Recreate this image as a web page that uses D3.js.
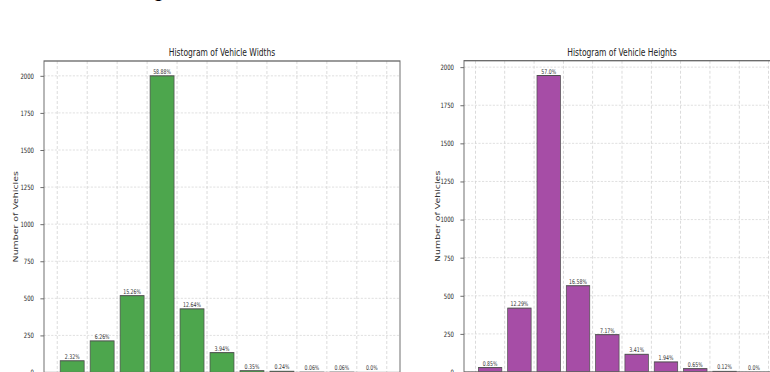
<!DOCTYPE html>
<html>
<head>
<meta charset="utf-8">
<script src="https://cdn.jsdelivr.net/npm/d3@7/dist/d3.min.js"></script>
<style>
  html, body { margin: 0; padding: 0; background: #fff; }
  svg { display: block; font-family: "DejaVu Sans", sans-serif; }
</style>
</head>
<body>
<svg id="chart" width="770" height="372"></svg>
<script>
// ---------- data ----------
const suptitle = "Histograms of Vehicle Dimensions";

const widthTitle = "Histogram of Vehicle Widths";
const widthCounts = [79, 213, 518, 2000, 429, 134, 12, 8, 2, 2, 0];
const widthPct = ["2.32%", "6.26%", "15.26%", "58.88%", "12.64%", "3.94%", "0.35%", "0.24%", "0.06%", "0.06%", "0.0%"];
const widthEdges = ["1.4", "1.5", "1.6", "1.7", "1.8", "1.9", "2.0", "2.1", "2.2", "2.3", "2.4", "2.5"];

const heightTitle = "Histogram of Vehicle Heights";
const heightCounts = [29, 419, 1945, 566, 245, 116, 66, 22, 4, 0];
const heightPct = ["0.85%", "12.29%", "57.0%", "16.58%", "7.17%", "3.41%", "1.94%", "0.65%", "0.12%", "0.0%"];
const heightEdges = ["1.2", "1.4", "1.6", "1.8", "2.0", "2.2", "2.4", "2.6", "2.8", "3.0", "3.2"];

const yTicks = [0, 250, 500, 750, 1000, 1250, 1500, 1750, 2000];
const yLabel = "Number of Vehicles";

// ---------- drawing ----------
const K = 0.72; // horizontal squeeze of the whole figure
const svg = d3.select("#chart");
const root = svg.append("g").attr("transform", `scale(${K},1)`);

root.append("text")
  .attr("x", 107 / K).attr("y", -3)
  .attr("font-size", 22).attr("font-weight", "bold").attr("fill", "#000")
  .text(suptitle);

function panel(opt) {
  const n = opt.counts.length;
  const left = opt.left / K, right = opt.right / K;
  const top = opt.top, bottom = opt.bottom;
  const m = 0.05 * (n - 0.2);
  const x = d3.scaleLinear().domain([0.1 - m, n - 0.1 + m]).range([left, right]);
  const y = d3.scaleLinear().domain([0, d3.max(opt.counts) * 1.05]).range([bottom, top]);
  const g = root.append("g");

  // grid
  g.append("g").selectAll("line.h").data(yTicks).join("line")
    .attr("x1", left).attr("x2", right)
    .attr("y1", d => y(d)).attr("y2", d => y(d))
    .attr("stroke", "#d2d2d2").attr("stroke-width", 0.8).attr("stroke-dasharray", "3,2");
  g.append("g").selectAll("line.v").data(d3.range(n + 1)).join("line")
    .attr("x1", d => x(d)).attr("x2", d => x(d))
    .attr("y1", top).attr("y2", bottom)
    .attr("stroke", "#d2d2d2").attr("stroke-width", 1.1).attr("stroke-dasharray", "3,2");

  // bars
  g.append("g").selectAll("rect").data(opt.counts).join("rect")
    .attr("x", (d, i) => x(i + 0.1))
    .attr("width", (d, i) => x(i + 0.9) - x(i + 0.1))
    .attr("y", d => y(d))
    .attr("height", d => y(0) - y(d))
    .attr("fill", opt.color)
    .attr("stroke", "#4d4d4d").attr("stroke-width", 1);

  // labels
  g.append("g").selectAll("text").data(opt.counts).join("text")
    .attr("x", (d, i) => x(i + 0.5))
    .attr("y", d => y(d) - 2)
    .attr("text-anchor", "middle")
    .attr("font-size", 6.5).attr("fill", "#333")
    .text((d, i) => opt.pct[i]);

  // axes
  const yAxis = d3.axisLeft(y).tickValues(yTicks).tickFormat(d3.format("d")).tickSize(5).tickPadding(9);
  const ya = g.append("g").attr("transform", `translate(${left},0)`).call(yAxis);
  ya.select(".domain").remove();
  ya.selectAll("line").attr("stroke", "#555");
  ya.selectAll("text").attr("font-size", 7.4).attr("fill", "#222").attr("font-family", "DejaVu Sans");

  const xAxis = d3.axisBottom(x).tickValues(d3.range(n + 1)).tickFormat(i => opt.edges[i]).tickSize(5);
  const xa = g.append("g").attr("transform", `translate(0,${bottom})`).call(xAxis);
  xa.select(".domain").remove();
  xa.selectAll("line").attr("stroke", "#555");
  xa.selectAll("text").attr("font-size", 7.5).attr("fill", "#333").attr("font-family", "DejaVu Sans");

  // frame
  g.append("rect")
    .attr("x", left).attr("y", top)
    .attr("width", right - left).attr("height", bottom - top)
    .attr("fill", "none").attr("stroke", "#666").attr("stroke-width", 1.3);

  // title
  g.append("text")
    .attr("x", (left + right) / 2).attr("y", top - 5)
    .attr("text-anchor", "middle").attr("font-size", 10.5).attr("fill", "#222")
    .text(opt.title);

  // y label
  g.append("text")
    .attr("transform", `translate(${opt.ylabX / K},${(top + bottom) / 2}) rotate(-90)`)
    .attr("text-anchor", "middle").attr("font-size", 9.4).attr("fill", "#333")
    .text(yLabel);
}

panel({ counts: widthCounts, pct: widthPct, edges: widthEdges, title: widthTitle,
        color: "#4da64d", left: 44, right: 400, top: 61, bottom: 372.5, ylabX: 17.5 });
panel({ counts: heightCounts, pct: heightPct, edges: heightEdges, title: heightTitle,
        color: "#a64da6", left: 464, right: 780, top: 60.7, bottom: 372, ylabX: 440 });
</script>
</body>
</html>
